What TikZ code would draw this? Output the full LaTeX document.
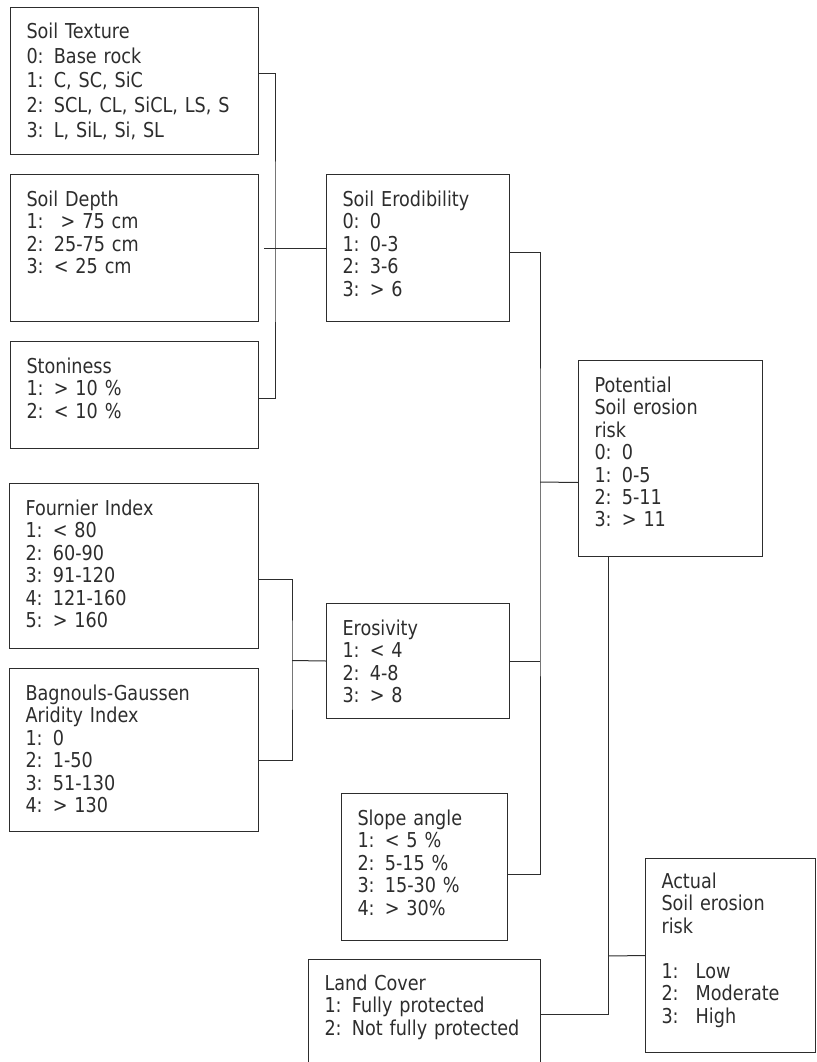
\documentclass[tikz,border=0pt]{standalone}
\usepackage{fontspec}
\setmainfont{DejaVu Sans}[FakeStretch=0.86,WordSpace=0.75]
\definecolor{ink}{RGB}{45,45,45}
\usetikzlibrary{positioning}

\tikzset{
  crit/.style={draw=ink, text=ink, line width=1pt, anchor=north west, align=left,
    inner xsep=16pt, inner ysep=0pt, text height=32pt,
    font=\fontsize{20.5}{22.4}\selectfont},
  boxdim/.code 2 args={\pgfmathsetmacro\critw{#1-32}\pgfmathsetmacro\critd{#2-32}%
    \tikzset{text width=\critw pt, text depth=\critd pt}},
  link/.style={draw=ink, line width=1pt}
}

\begin{document}
\begin{tikzpicture}[x=1pt,y=-1pt]
  \useasboundingbox (0,0) rectangle (816,1062);
  \clip (0,0) rectangle (816,1062);
  % soil criteria
  \node[crit, boxdim={248}{148}, text height=31pt, font=\fontsize{20.5}{24.7}\selectfont]
    (texture) at (10,7) {Soil Texture\\0: Base rock\\1: C, SC, SiC\\2: SCL, CL, SiCL, LS, S\\3: L, SiL, Si, SL};
  \node[crit, boxdim={248}{147}] (depth) at (10,174) {Soil Depth\\1: \ > 75 cm\\2: 25-75 cm\\3: < 25 cm};
  \node[crit, boxdim={248}{107}] (stone) at (10,341) {Stoniness\\1: > 10 \%\\2: < 10 \%};
  \node[crit, boxdim={183}{147}] (erod) at (326,174) {Soil Erodibility\\0: 0\\1: 0-3\\2: 3-6\\3: > 6};
  % climate criteria
  \node[crit, boxdim={249}{165}] (fournier) at (9,483) {Fournier Index\\1: < 80\\2: 60-90\\3: 91-120\\4: 121-160\\5: > 160};
  \node[crit, boxdim={249}{163}] (bagn) at (9,668) {Bagnouls-Gaussen\\Aridity Index\\1: 0\\2: 1-50\\3: 51-130\\4: > 130};
  \node[crit, boxdim={183}{115}] (erosiv) at (326,603) {Erosivity\\1: < 4\\2: 4-8\\3: > 8};
  % topography
  \node[crit, boxdim={166}{147}] (slope) at (341,793) {Slope angle\\1: < 5 \%\\2: 5-15 \%\\3: 15-30 \%\\4: > 30\%};
  % risk
  \node[crit, boxdim={184}{196}] (potential) at (578,360) {Potential\\Soil erosion\\risk\\0: 0\\1: 0-5\\2: 5-11\\3: > 11};
  \node[crit, boxdim={232}{121}, text height=31pt] (land) at (308,959) {Land Cover\\1: Fully protected\\2: Not fully protected};
  \node[crit, boxdim={170}{196}, text height=30pt] (actual) at (645,858) {Actual\\Soil erosion\\risk\\[22.5pt]1: \ Low\\2: \ Moderate\\3: \ High};

  % connectors
  \coordinate (soilbus) at (275,247.5);
  \draw[link] ([yshift=7.5pt]texture.east) -| (soilbus) |- ([yshift=-3.5pt]stone.east);
  \draw[link] ([xshift=5pt]depth.east) -- (erod.west);
  \coordinate (climbus) at (292,660.5);
  \draw[link] ([yshift=-13.5pt]fournier.east) -| (climbus) |- ([yshift=-10.5pt]bagn.east);
  \draw[link] (climbus) -- (erosiv.west);
  \coordinate (potbus) at (540,482);
  \draw[link] ([yshift=-4pt]erod.east) -| (potbus) |- ([yshift=-7.5pt]slope.east);
  \draw[link] (erosiv.east) -- (erosiv.east -| potbus);
  \draw[link] (potbus) -- ([yshift=-24pt]potential.west);
  \coordinate (actbus) at (608,956);
  \draw[link] ([xshift=-62pt]potential.south) |- ([yshift=5.5pt]land.east);
  \draw[link] (actbus) -- (actual.west);
\end{tikzpicture}
\end{document}
